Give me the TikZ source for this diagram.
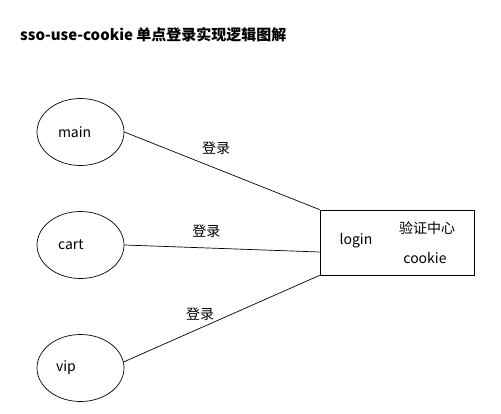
\documentclass[tikz,border=0pt]{standalone}
\usepackage{fontspec}
\setmainfont{Noto Sans CJK SC}
\usetikzlibrary{shapes.geometric,positioning}

\begin{document}
\begin{tikzpicture}[x=1pt,y=-1pt]
                        \tikzset{Client/.style={%
                                shape=ellipse,%
                                draw=black,%
                                line width=0.7pt,%
                                minimum width=87pt,%
                                minimum height=67pt,%
                                inner sep=0pt,%
                                text width=45pt,%
                                align=left,%
                                font=\fontsize{14}{16}\selectfont,%
                            },
                            Server/.style={%
                                shape=rectangle,%
                                draw=black,%
                                line width=0.7pt,%
                                minimum width=154pt,%
                                minimum height=65pt,%
                                inner sep=0pt,%
                            },
                            Label/.style={%
                                font=\fontsize{14}{16}\selectfont,%
                                inner sep=1pt,%
                            }}

                            \useasboundingbox (0,0) rectangle (501,413);

                            \node[anchor=west, inner sep=0pt, font=\fontsize{15}{17}\selectfont\bfseries] (title) at (20,35) {sso-use-cookie 单点登录实现逻辑图解};

                            \node[Client] (main) at (80.5,132) {main};
                            \node[Client] (cart) at (80.5,245) {cart};
                            \node[Client] (vip) at (80.5,368) {\hspace*{-2pt}vip};

                            \node[Server] (box) at (397,242.5) {};
                            \node[Label] (login) at (356,241) {login};
                            \node[Label] (center) at (427,228) {验证中心};
                            \node[Label] (cookie) at (425,258) {cookie};

                            \path (main.east) edge[-,line width=0.7pt] node[Label, pos=0.47, above=13pt]{登录} (box.north west);
                            \path (cart.east) edge[-,line width=0.7pt] node[Label, pos=0.42, above=9pt]{登录} (box.187);
                            \path (vip.8) edge[-,line width=0.7pt] node[Label, pos=0.39, above=6pt]{登录} (box.south west);
                    \end{tikzpicture}
\end{document}
